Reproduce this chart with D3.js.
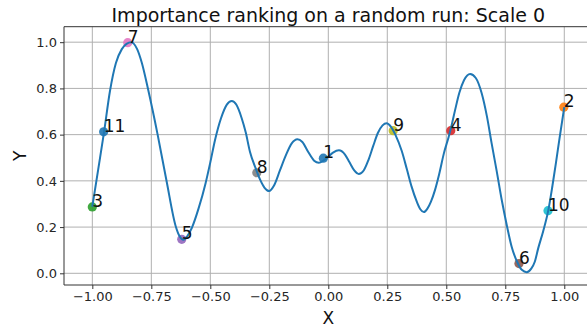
<!DOCTYPE html>
<html>
<head>
<meta charset="utf-8">
<script src="https://cdn.jsdelivr.net/npm/d3@7"></script>
<style>
  html, body { margin: 0; padding: 0; background: #fff; }
  svg { display: block; font-family: "DejaVu Sans", sans-serif; }
</style>
</head>
<body>
<svg id="chart" width="587" height="329"></svg>
<script>
// === DATA ====================================================

// fitted curve
const curveX = [
    -1.0, -0.975, -0.95, -0.925, -0.9, -0.875, -0.855, -0.835, -0.81, -0.79,
    -0.763, -0.723, -0.685, -0.647, -0.63, -0.614, -0.598, -0.579, -0.55, -0.52,
    -0.5, -0.48, -0.455, -0.43, -0.409, -0.39, -0.367, -0.35, -0.332, -0.31,
    -0.289, -0.27, -0.251, -0.23, -0.205, -0.18, -0.155, -0.131, -0.11, -0.085,
    -0.06, -0.04, -0.02, 0.0, 0.02, 0.045, 0.07, 0.09, 0.11, 0.129,
    0.15, 0.17, 0.19, 0.21, 0.23, 0.247, 0.265, 0.285, 0.311, 0.333,
    0.353, 0.375, 0.39, 0.405, 0.42, 0.435, 0.452, 0.47, 0.49, 0.51,
    0.519, 0.537, 0.555, 0.575, 0.601, 0.625, 0.65, 0.672, 0.692, 0.714,
    0.735, 0.757, 0.777, 0.8, 0.82, 0.841, 0.86, 0.875, 0.89, 0.91,
    0.932, 0.95, 0.965, 0.98, 1.0
];
const curveY = [
    0.288, 0.45, 0.613, 0.79, 0.91, 0.97, 0.993, 1.0, 0.97, 0.91,
    0.793, 0.599, 0.397, 0.205, 0.16, 0.145, 0.16, 0.195, 0.28, 0.39,
    0.48, 0.577, 0.67, 0.73, 0.746, 0.73, 0.671, 0.61, 0.526, 0.46,
    0.405, 0.37, 0.356, 0.38, 0.445, 0.51, 0.562, 0.58, 0.568, 0.525,
    0.487, 0.478, 0.488, 0.505, 0.522, 0.532, 0.515, 0.48, 0.445, 0.43,
    0.445, 0.49, 0.55, 0.607, 0.64, 0.649, 0.635, 0.598, 0.53, 0.45,
    0.375, 0.31, 0.277, 0.265, 0.28, 0.31, 0.36, 0.43, 0.52, 0.59,
    0.625, 0.705, 0.78, 0.835, 0.862, 0.845, 0.779, 0.68, 0.563, 0.44,
    0.317, 0.205, 0.115, 0.05, 0.015, 0.005, 0.02, 0.05, 0.11, 0.18,
    0.271, 0.38, 0.48, 0.585, 0.719
];

// ranked samples
const rankLabels = ["1", "2", "3", "4", "5", "6", "7", "8", "9", "10", "11"];
const rankX = [-0.021, 0.998, -1.0, 0.519, -0.621, 0.808, -0.85, -0.303, 0.275, 0.931, -0.952];
const rankY = [0.498, 0.719, 0.287, 0.617, 0.147, 0.042, 0.998, 0.435, 0.617, 0.271, 0.612];

const xTicks = [-1.0, -0.75, -0.5, -0.25, 0.0, 0.25, 0.5, 0.75, 1.0];
const yTicks = [0.0, 0.2, 0.4, 0.6, 0.8, 1.0];

const TAB10 = ["#1f77b4", "#ff7f0e", "#2ca02c", "#d62728", "#9467bd",
               "#8c564b", "#e377c2", "#7f7f7f", "#bcbd22", "#17becf"];

document.addEventListener("DOMContentLoaded", () => {
    // === LAYOUT ==============================================

    const svg = d3.select("#chart");
    const L = 64, R = 592.6, T = 26.7, B = 285;

    const x = d3.scaleLinear().domain([-1.12, 1.12]).range([L, R]);
    const y = d3.scaleLinear().domain([-0.0506, 1.067]).range([B, T]);

    svg.append("rect").attr("width", 587).attr("height", 329).attr("fill", "#fff");

    // grid
    const grid = svg.append("g").attr("stroke", "#b0b0b0").attr("stroke-width", 1);
    grid.selectAll(".gx").data(xTicks).enter().append("line")
        .attr("x1", d => x(d)).attr("x2", d => x(d))
        .attr("y1", T).attr("y2", B);
    grid.selectAll(".gy").data(yTicks).enter().append("line")
        .attr("x1", L).attr("x2", R)
        .attr("y1", d => y(d)).attr("y2", d => y(d));

    // axes
    const fmtX = v => d3.format(".2f")(v).replace("-", "\u2212");
    const xAxis = svg.append("g")
        .attr("transform", `translate(0,${B})`)
        .call(d3.axisBottom(x).tickValues(xTicks).tickFormat(fmtX).tickSizeOuter(0).tickSize(4).tickPadding(3));
    const yAxis = svg.append("g")
        .attr("transform", `translate(${L},0)`)
        .call(d3.axisLeft(y).tickValues(yTicks).tickFormat(d3.format(".1f")).tickSizeOuter(0).tickSize(4).tickPadding(3));

    [xAxis, yAxis].forEach(a => {
        a.select(".domain").remove();
        a.selectAll(".tick line").attr("stroke", "#333");
        a.selectAll(".tick text")
            .attr("fill", "#262626")
            .style("font-family", "DejaVu Sans")
            .style("font-size", "13px");
    });

    // frame (right spine falls outside the picture)
    svg.append("path")
        .attr("d", `M${R},${T}H${L}V${B}H${R}`)
        .attr("fill", "none")
        .attr("stroke", "#333")
        .attr("stroke-width", 1);

    // === MARKS ===============================================

    const pts = rankLabels.map((l, i) => ({ label: l, x: rankX[i], y: rankY[i], c: TAB10[i % 10] }));

    svg.append("g").selectAll("circle").data(pts).enter().append("circle")
        .attr("cx", d => x(d.x))
        .attr("cy", d => y(d.y))
        .attr("r", 4.6)
        .attr("fill", d => d.c)
        .attr("opacity", 0.9);

    const line = d3.line()
        .x(d => x(d[0]))
        .y(d => y(d[1]))
        .curve(d3.curveMonotoneX);

    svg.append("path")
        .datum(curveX.map((v, i) => [v, curveY[i]]))
        .attr("d", line)
        .attr("fill", "none")
        .attr("stroke", "#1f77b4")
        .attr("stroke-width", 2);

    svg.append("g").selectAll("text").data(pts).enter().append("text")
        .attr("x", d => x(d.x))
        .attr("y", d => y(d.y))
        .attr("fill", "#111")
        .style("font-size", "17px")
        .text(d => d.label);

    // === LABELS ==============================================

    svg.append("text")
        .attr("x", (L + R) / 2)
        .attr("y", 21.5)
        .attr("text-anchor", "middle")
        .attr("fill", "#111")
        .style("font-size", "19px")
        .text("Importance ranking on a random run: Scale 0");

    svg.append("text")
        .attr("x", (L + R) / 2)
        .attr("y", 323.5)
        .attr("text-anchor", "middle")
        .attr("fill", "#111")
        .style("font-size", "17px")
        .text("X");

    svg.append("text")
        .attr("transform", `translate(26,${(T + B) / 2}) rotate(-90)`)
        .attr("text-anchor", "middle")
        .attr("fill", "#111")
        .style("font-size", "17px")
        .text("Y");
});
</script>
</body>
</html>
